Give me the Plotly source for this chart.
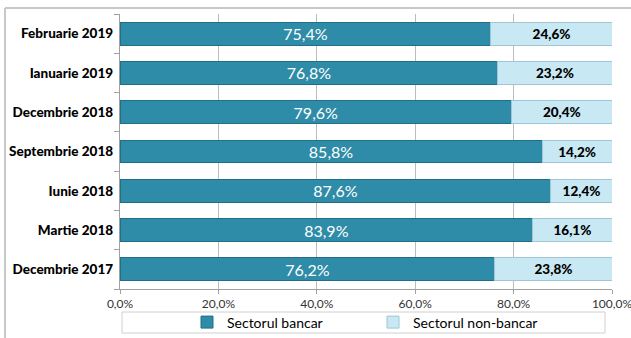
import plotly.graph_objects as go

categories = ["Decembrie 2017", "Martie 2018", "Iunie 2018", "Septembrie 2018",
              "Decembrie 2018", "Ianuarie 2019", "Februarie 2019"]
bancar = [76.2, 83.9, 87.6, 85.8, 79.6, 76.8, 75.4]
non_bancar = [23.8, 16.1, 12.4, 14.2, 20.4, 23.2, 24.6]
x_ticks = [0, 20, 40, 60, 80, 100]
x_tick_labels = ["0,0%", "20,0%", "40,0%", "60,0%", "80,0%", "100,0%"]

def fmt(v):
    return f"{v:.1f}%".replace(".", ",")

FONT = "Lato, 'Open Sans', sans-serif"
BOLD = "'Lato Black', Lato, sans-serif"

fig = go.Figure()
fig.add_trace(go.Bar(
    y=categories, x=bancar, orientation="h", name="Sectorul bancar",
    marker=dict(color="#2f8ca8", line=dict(color="#1f6f88", width=1)),
    text=[fmt(v) for v in bancar], textposition="inside", insidetextanchor="middle",
    textfont=dict(color="white", size=16, family=FONT),
    constraintext="none", width=0.58,
))
fig.add_trace(go.Bar(
    y=categories, x=non_bancar, orientation="h", name="Sectorul non-bancar",
    marker=dict(color="#c8e8f3", line=dict(color="#9fc6d4", width=1)),
    text=[fmt(v) for v in non_bancar], textposition="inside", insidetextanchor="middle",
    textfont=dict(color="black", size=13.5, family=BOLD),
    constraintext="none", width=0.58,
))

W, H = 631, 338
L, R, T, B = 120, 19, 14, 49
pw, ph = W - L - R, H - T - B

def px_x(p):
    return (p - L) / pw

def px_y(p):
    return (H - B - p) / ph

shapes = [
    # outer chart border (left and top edges visible in the crop)
    dict(type="line", xref="paper", yref="paper",
         x0=px_x(5), x1=px_x(5), y0=px_y(400), y1=px_y(8),
         line=dict(color="#c8c8c8", width=2), layer="below"),
    dict(type="line", xref="paper", yref="paper",
         x0=px_x(5), x1=px_x(700), y0=px_y(8), y1=px_y(8),
         line=dict(color="#c8c8c8", width=2), layer="below"),
    # legend box
    dict(type="rect", xref="paper", yref="paper",
         x0=px_x(122), x1=px_x(605), y0=px_y(333), y1=px_y(312),
         line=dict(color="#d0d0d0", width=1), fillcolor="white", layer="below"),
]

fig.update_layout(
    width=W, height=H,
    margin=dict(l=L, r=R, t=T, b=B, autoexpand=False),
    barmode="stack",
    plot_bgcolor="white", paper_bgcolor="white",
    font=dict(family=FONT, size=12, color="black"),
    shapes=shapes,
    legend=dict(orientation="h", x=px_x(187), xanchor="left", y=px_y(322.5), yanchor="middle",
                font=dict(size=14, family=FONT), bgcolor="rgba(0,0,0,0)",
                traceorder="normal", itemwidth=30, entrywidth=141, entrywidthmode="pixels"),
    xaxis=dict(range=[0, 100], tickvals=x_ticks, ticktext=x_tick_labels,
               showgrid=True, gridcolor="#bdbdbd", gridwidth=1,
               showline=True, linecolor="#a0a0a0", ticks="outside", ticklen=4,
               tickcolor="#a0a0a0", tickfont=dict(size=12, color="#333333"),
               ticklabeloverflow="allow", zeroline=False, automargin=False),
    yaxis=dict(categoryorder="array", categoryarray=categories,
               showline=True, linecolor="#a0a0a0", ticks="outside", ticklen=5,
               tickcolor="#a0a0a0", tickson="boundaries",
               tickfont=dict(size=13.5, family=BOLD, color="black"),
               ticksuffix=" ", automargin=False),
)

fig.write_html("out.html")
